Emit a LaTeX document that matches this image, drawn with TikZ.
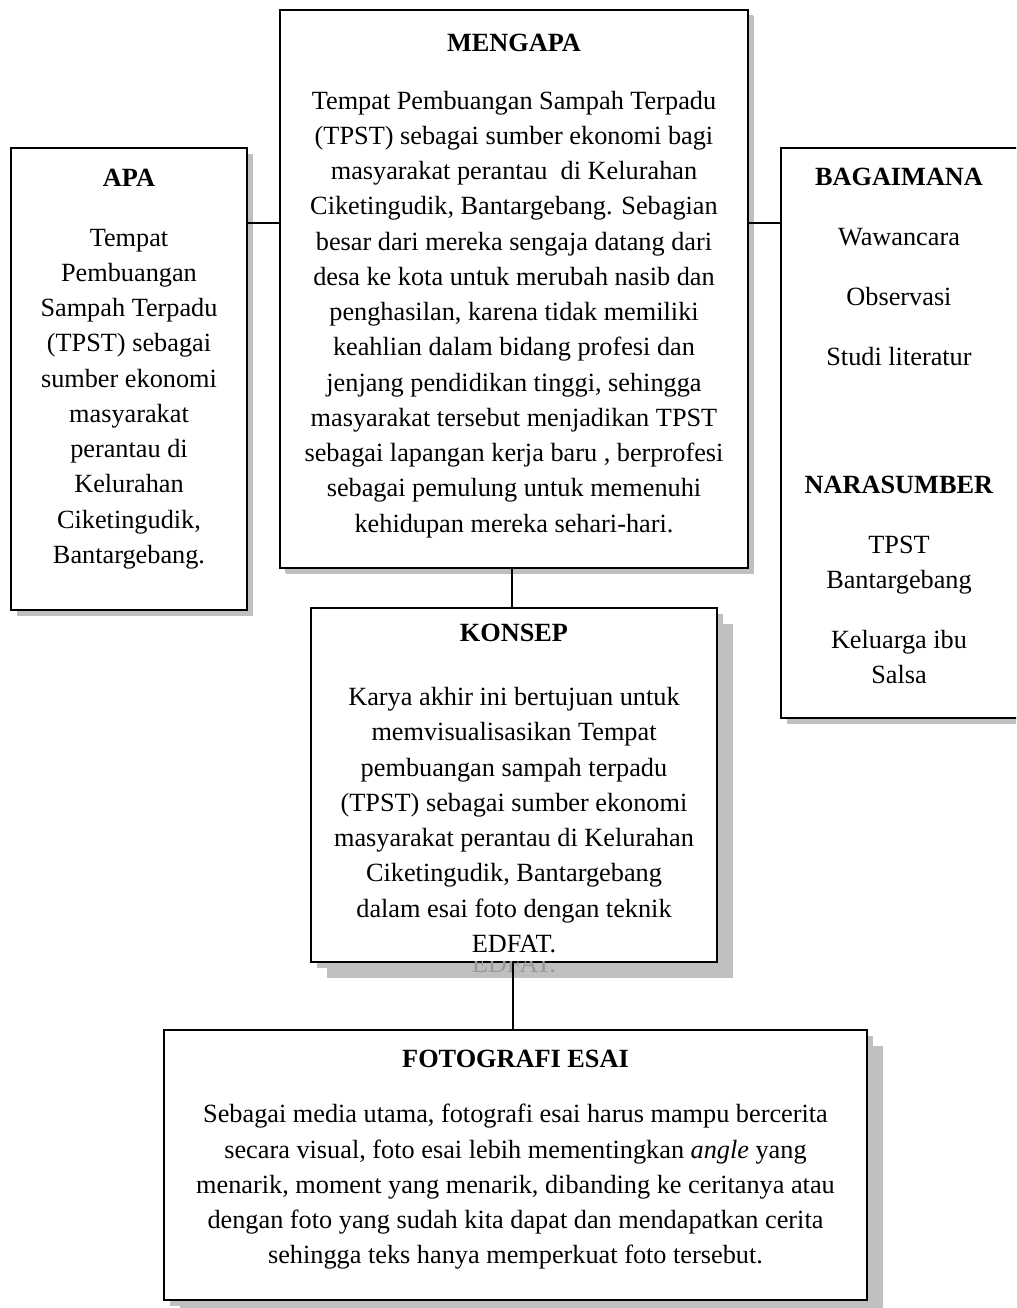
\documentclass[tikz,border=0pt]{standalone}
\usepackage{fontspec}
\setmainfont{Liberation Serif}
\usepackage{tikz}
\usetikzlibrary{shapes,positioning,shadows}

\begin{document}
\begin{tikzpicture}[
    x=0.4566pt,y=-0.4566pt,
    panel/.style={rectangle,draw,line width=0.8pt,fill=white,inner sep=0pt,outer sep=0pt,
        drop shadow={shadow xshift=2.7pt,shadow yshift=-2.7pt,fill=black!25,opacity=1}},
    bigpanel/.style={panel,
        drop shadow={shadow xshift=7.3pt,shadow yshift=-7.3pt,fill=black!25,opacity=1}},
    paneltext/.style={anchor=north,align=center,inner sep=0pt,font=\fontsize{12}{16.1}\selectfont},
    link/.style={line width=0.75pt}
]
\clip (0,0) rectangle (1016,1308);

\node[panel,minimum width=213.7pt,minimum height=254.8pt,
    drop shadow={shadow xshift=2.3pt,shadow yshift=-2.3pt,fill=black!25,opacity=1}] (mengapa) at (514,289) {};
\node[panel,minimum width=107.8pt,minimum height=210.9pt] (apa) at (129,379) {};
\node[panel,minimum width=111.4pt,minimum height=260.3pt] (bagaimana) at (903,433) {};
\node[bigpanel,minimum width=185.4pt,minimum height=161.6pt] (konsep) at (514,785) {};
\node[bigpanel,minimum width=321.0pt,minimum height=123.3pt] (fotografi) at (515.5,1165) {};

\begin{scope}
\clip (konsep.south west) rectangle ([xshift=7.3pt,yshift=-7.3pt]konsep.south east);
\node[anchor=base,inner sep=0pt,font=\fontsize{12}{16.1}\selectfont,text=black!40] (edfatghost) at (514,972) {EDFAT.};
\end{scope}

\node[paneltext] (mengapatext) at (514,34) {\textbf{MENGAPA}\\[10pt]
Tempat Pembuangan Sampah Terpadu\\
(TPST) sebagai sumber ekonomi bagi\\
masyarakat perantau \ di Kelurahan\\
Ciketingudik, Bantargebang. Sebagian\\
besar dari mereka sengaja datang dari\\
desa ke kota untuk merubah nasib dan\\
penghasilan, karena tidak memiliki\\
keahlian dalam bidang profesi dan\\
jenjang pendidikan tinggi, sehingga\\
masyarakat tersebut menjadikan TPST\\
sebagai lapangan kerja baru , berprofesi\\
sebagai pemulung untuk memenuhi\\
kehidupan mereka sehari-hari.};

\node[paneltext] (apatext) at (129,169) {\textbf{APA}\\[11pt]
Tempat\\
Pembuangan\\
Sampah Terpadu\\
(TPST) sebagai\\
sumber ekonomi\\
masyarakat\\
perantau di\\
Kelurahan\\
Ciketingudik,\\
Bantargebang.};

\node[paneltext] (bagaimanatext) at (899,168) {\textbf{BAGAIMANA}\\[11.3pt]
Wawancara\\[11.3pt]
Observasi\\[11.3pt]
Studi literatur\\[42pt]
\textbf{NARASUMBER}\\[11.3pt]
TPST\\
Bantargebang\\[11.3pt]
Keluarga ibu\\
Salsa};

\node[paneltext] (konseptext) at (514,624) {\textbf{KONSEP}\\[13pt]
Karya akhir ini bertujuan untuk\\
memvisualisasikan Tempat\\
pembuangan sampah terpadu\\
(TPST) sebagai sumber ekonomi\\
masyarakat perantau di Kelurahan\\
Ciketingudik, Bantargebang\\
dalam esai foto dengan teknik\\
EDFAT.};

\node[paneltext] (fotografitext) at (515.5,1050) {\textbf{FOTOGRAFI ESAI}\\[9pt]
Sebagai media utama, fotografi esai harus mampu bercerita\\
secara visual, foto esai lebih mementingkan \textit{angle} yang\\
menarik, moment yang menarik, dibanding ke ceritanya atau\\
dengan foto yang sudah kita dapat dan mendapatkan cerita\\
sehingga teks hanya memperkuat foto tersebut.};

\coordinate (linkrow) at (0,223);
\draw[link] (apa.east |- linkrow) -- (mengapa.west |- linkrow);
\draw[link] (mengapa.east |- linkrow) -- (bagaimana.west |- linkrow);
\draw[link] (mengapa.south -| 512,0) -- (konsep.north -| 512,0);
\draw[link] (konsep.south -| 513,0) -- (fotografi.north -| 513,0);
\end{tikzpicture}
\end{document}
